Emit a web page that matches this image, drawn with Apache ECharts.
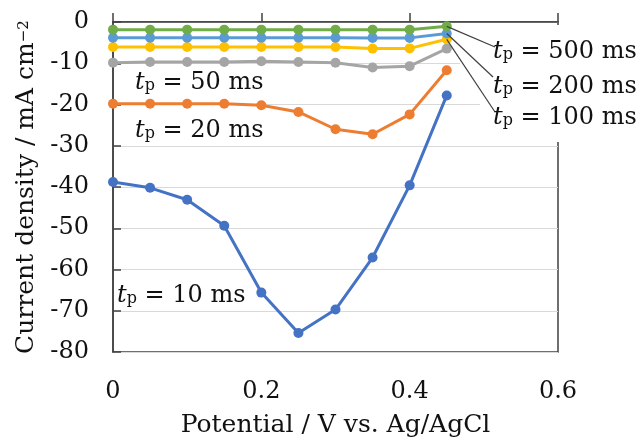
<!DOCTYPE html>
<html>
<head>
<meta charset="utf-8">
<script src="https://cdn.jsdelivr.net/npm/echarts@6/dist/echarts.min.js"></script>
<style>
  html, body { margin: 0; padding: 0; background: #fff; }
  #chart { width: 638px; height: 437px; }
</style>
</head>
<body>
<div id="chart"></div>
<script>
// Potential (V vs. Ag/AgCl)
const potential = [0, 0.05, 0.1, 0.15, 0.2, 0.25, 0.3, 0.35, 0.4, 0.45];

// Current density (mA cm^-2) for each pulse time t_p
const tp10  = [-38.8, -40.2, -43.1, -49.4, -65.6, -75.4, -69.7, -57.1, -39.6, -17.8];
const tp20  = [-19.8, -19.8, -19.8, -19.8, -20.2, -21.8, -26.0, -27.2, -22.4, -11.7];
const tp50  = [-9.85, -9.7, -9.7, -9.7, -9.5, -9.7, -9.9, -11.05, -10.7, -6.45];
const tp100 = [-6.05, -6.05, -6.05, -6.05, -6.05, -6.05, -6.05, -6.45, -6.4, -4.2];
const tp200 = [-3.8, -3.8, -3.8, -3.8, -3.8, -3.8, -3.8, -3.85, -3.85, -2.8];
const tp500 = [-1.85, -1.85, -1.85, -1.85, -1.85, -1.85, -1.85, -1.85, -1.85, -1.05];

const pulseTimes = ['10', '20', '50', '100', '200', '500'];
const seriesValues = [tp10, tp20, tp50, tp100, tp200, tp500];
const seriesColors = ['#4472C4', '#ED7D31', '#A5A5A5', '#FFC000', '#5B9BD5', '#70AD47'];

const SERIF = "'DejaVu Serif', 'Liberation Serif', serif";
const INK = '#111';
const FRAME = '#404040';

const chart = echarts.init(document.getElementById('chart'), null, { renderer: 'canvas' });

const series = seriesValues.map((vals, i) => ({
  name: 't_p = ' + pulseTimes[i] + ' ms',
  type: 'line',
  data: potential.map((x, j) => [x, vals[j]]),
  symbol: 'circle',
  symbolSize: 10,
  clip: false,
  lineStyle: { color: seriesColors[i], width: 3 },
  itemStyle: { color: seriesColors[i] },
  emphasis: { disabled: true },
  z: 3
}));

chart.setOption({
  animation: false,
  backgroundColor: '#fff',
  grid: {
    left: 113, right: 80, top: 22, bottom: 85,
    outerBoundsMode: 'none', containLabel: false,
    show: true, borderColor: FRAME, borderWidth: 1.5, backgroundColor: 'transparent'
  },
  xAxis: {
    type: 'value', min: 0, max: 0.6, interval: 0.2,
    name: 'Potential / V vs. Ag/AgCl',
    nameLocation: 'middle', nameGap: 61,
    nameTextStyle: { fontFamily: SERIF, fontSize: 25, color: INK },
    axisLine: { show: true, lineStyle: { color: FRAME, width: 1.5 } },
    axisTick: { show: true, inside: true, length: 9, lineStyle: { color: FRAME, width: 1.5 } },
    axisLabel: { fontFamily: SERIF, fontSize: 24, color: INK, margin: 28 },
    splitLine: { show: false }
  },
  yAxis: {
    type: 'value', min: -80, max: 0, interval: 10,
    name: '{a|Current density / mA cm}{s|−2}',
    nameLocation: 'middle', nameGap: 70, nameRotate: 90,
    nameTextStyle: {
      fontFamily: SERIF, fontSize: 25, color: INK,
      rich: {
        a: { fontFamily: SERIF, fontSize: 25, color: INK, padding: [6, 0, 0, 0] },
        s: { fontFamily: SERIF, fontSize: 15, color: INK }
      }
    },
    axisLine: { show: true, lineStyle: { color: FRAME, width: 1.5 } },
    axisTick: { show: true, inside: true, length: 8, lineStyle: { color: FRAME, width: 1.5 } },
    axisLabel: { fontFamily: SERIF, fontSize: 24, color: INK, margin: 24, padding: [6, 0, 0, 0] },
    splitLine: { show: true, lineStyle: { color: '#D9D9D9', width: 1 } }
  },
  series: series
});

// Pulse-time annotations: t (italic) with subscript p
const labelRich = {
  t: { fontFamily: SERIF, fontStyle: 'italic', fontSize: 24, fill: INK, color: INK, padding: [0, 0, 6, 0] },
  p: { fontFamily: SERIF, fontSize: 16, fill: INK, color: INK },
  n: { fontFamily: SERIF, fontSize: 24, fill: INK, color: INK, padding: [0, 0, 6, 0] }
};
function tpText(ms) { return '{t|t}{p|p}{n| = ' + ms + ' ms}'; }

function annotation(ms, x, y) {
  return {
    type: 'text', x: x, y: y, z: 120,
    style: {
      text: tpText(ms), rich: labelRich,
      font: '24px ' + SERIF, fill: INK,
      textAlign: 'left', textVerticalAlign: 'middle'
    }
  };
}

const gridRect = chart.getModel().getComponent('grid').coordinateSystem.getRect();

// Leader lines from the last point of the 500/200/100 ms curves
const lastX = potential[potential.length - 1];
const p500 = chart.convertToPixel({ gridIndex: 0 }, [lastX, tp500[tp500.length - 1]]);
const p200 = chart.convertToPixel({ gridIndex: 0 }, [lastX, tp200[tp200.length - 1]]);
const p100 = chart.convertToPixel({ gridIndex: 0 }, [lastX, tp100[tp100.length - 1]]);

const labelLeft = 493;
const rows = [
  { ms: '500', y: 55, from: p500, to: [495, 47] },
  { ms: '200', y: 90, from: p200, to: [493, 77] },
  { ms: '100', y: 121, from: p100, to: [495, 112] }
];

const graphics = [
  // white label boxes on the right side
  { type: 'rect', z: 110, shape: { x: 460, y: gridRect.y + 3, width: 638 - 460, height: 68 - gridRect.y - 3 }, style: { fill: '#fff' } },
  { type: 'rect', z: 110, shape: { x: 480, y: 68, width: 638 - 480, height: 74 }, style: { fill: '#fff' } }
];
rows.forEach(r => {
  graphics.push({
    type: 'line', z: 115,
    shape: { x1: r.from[0], y1: r.from[1], x2: r.to[0], y2: r.to[1] },
    style: { stroke: FRAME, lineWidth: 1.2 }
  });
  graphics.push(annotation(r.ms, labelLeft, r.y));
});
graphics.push(annotation('50', 135, 86));
graphics.push(annotation('20', 135, 134));
graphics.push(annotation('10', 117, 299));

chart.setOption({ graphic: graphics });
</script>
</body>
</html>
